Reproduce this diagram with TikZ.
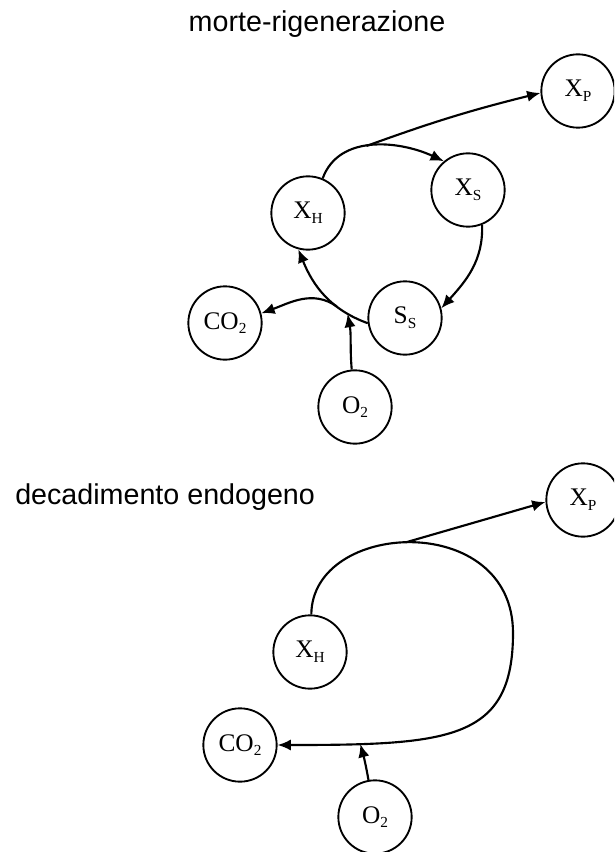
\documentclass[tikz,border=0pt]{standalone}
\usepackage{fontspec}
\setmainfont{Liberation Serif}
\newfontfamily\labelfont{Liberation Sans}
\usetikzlibrary{arrows.meta}
% lowered index for species names
\newcommand{\lowidx}[1]{\raisebox{-0.4ex}{\fontsize{11.5}{13}\selectfont #1}}
\begin{document}
\begin{tikzpicture}[x=0.75pt,y=-0.75pt,
  species/.style={circle,draw,line width=1.4pt,minimum size=55pt,inner sep=0pt,
    font=\fontsize{19}{22}\selectfont},
  flow/.style={line width=1.6pt,-{Latex[length=10pt,width=8.5pt]}},
  title/.style={inner sep=0pt,font=\labelfont\fontsize{21.5}{26}\selectfont}]
\clip (0,0) rectangle (614,852);
\fill[white] (0,0) rectangle (614,852);

% ---------- death-regeneration ----------
\node[title] (t1) at (317,24) {morte-rigenerazione};

\node[species] (XP1) at (578,91)  {X\lowidx{P}};
\node[species] (XS)  at (468,190) {X\lowidx{S}};
\node[species] (XH1) at (308,213) {X\lowidx{H}};
\node[species] (SS)  at (405,318) {S\lowidx{S}};
\node[species] (CO1) at (225,323) {CO\lowidx{2}};
\node[species] (O1)  at (355,407) {O\lowidx{2}};

\draw[flow] (XH1.67) to[out=70,in=155] coordinate[pos=0.45] (fk1) (XS.130);
\draw[flow] (fk1) to[bend left=3] (XP1.183);
\draw[flow] (XS.-68) to[out=-88,in=48] (SS.15);
\draw[flow] (SS.188) to[out=160,in=-68]
   coordinate[pos=0.2] (j1) coordinate[pos=0.33] (k1) (XH1.255);
\draw[flow] (O1.95) to[out=95,in=-80] (j1);
\draw[flow] (k1) to[out=145,in=20] (CO1.15);

% ---------- endogenous decay ----------
\node[title,anchor=west] (t2) at (15,497) {decadimento endogeno};

\node[species] (XP2) at (583,500) {X\lowidx{P}};
\node[species] (XH2) at (310,652) {X\lowidx{H}};
\node[species] (CO2) at (240,745) {CO\lowidx{2}};
\node[species] (O2)  at (375,817) {O\lowidx{2}};

\coordinate (loopR) at (513,633);
\draw[flow] (XH2.88) .. controls (312,520) and (513,510) .. (loopR)
   coordinate[pos=0.48] (fk2)
   .. controls (513,740) and (450,745) .. (CO2.east)
   coordinate[pos=0.82] (j2);
\draw[flow] (fk2) -- (XP2.183);
\draw[flow] (O2.100) to[out=100,in=-75] (j2);
\end{tikzpicture}
\end{document}
